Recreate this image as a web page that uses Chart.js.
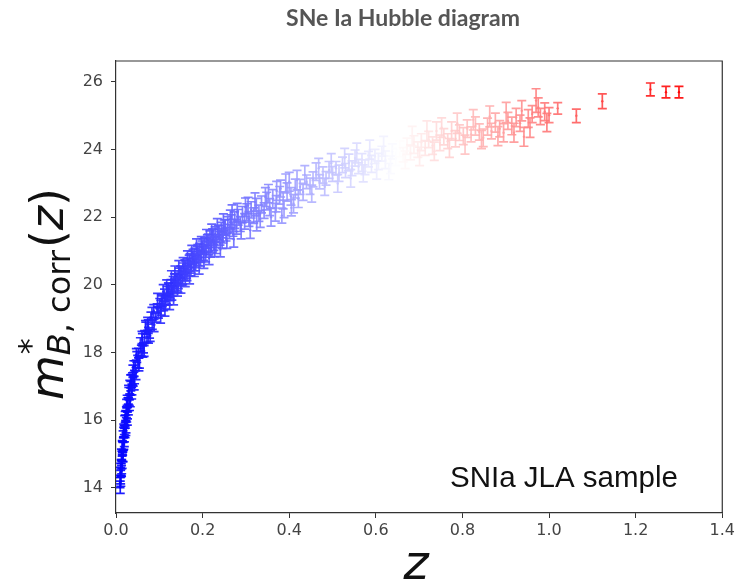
<!DOCTYPE html>
<html>
<head>
<meta charset="utf-8">
<title>SNe Ia Hubble diagram</title>
<script src="https://cdn.jsdelivr.net/npm/chart.js@4.4.1/dist/chart.umd.min.js"></script>
<style>
    html, body { margin: 0; padding: 0; background: #fff; }
    #hubbleChart { display: block; }
</style>
</head>
<body>
<canvas id="hubbleChart" width="738" height="584"></canvas>
<script>
// Values: redshift, corrected B magnitude and its error
const redshifts = [
    // low-z
    0.0093, 0.0098, 0.0102, 0.0107, 0.0112, 0.0118, 0.0121, 0.0125, 0.0131, 0.0136,
    0.0142, 0.0148, 0.0153, 0.0158, 0.0164, 0.0170, 0.0176, 0.0181, 0.0188, 0.0195,
    0.0201, 0.0209, 0.0216, 0.0224, 0.0231, 0.0240, 0.0248, 0.0257, 0.0266, 0.0275,
    0.0285, 0.0296, 0.0307, 0.0318, 0.0330, 0.0342, 0.0355, 0.0368, 0.0382, 0.0397,
    0.0412, 0.0428, 0.0445, 0.0462, 0.0480, 0.0500, 0.0520, 0.0541, 0.0563, 0.0586,
    0.0610, 0.0635, 0.0661, 0.0688, 0.0716, 0.0745, 0.0775, 0.0806, 0.0838, 0.0871,
    // SDSS
    0.092, 0.095, 0.098, 0.101, 0.104, 0.107, 0.110, 0.112, 0.115, 0.118,
    0.120, 0.122, 0.125, 0.127, 0.130, 0.132, 0.134, 0.137, 0.139, 0.141,
    0.144, 0.146, 0.148, 0.151, 0.153, 0.156, 0.158, 0.161, 0.163, 0.166,
    0.168, 0.171, 0.174, 0.177, 0.179, 0.182, 0.185, 0.188, 0.190, 0.193,
    0.196, 0.199, 0.202, 0.205, 0.208, 0.211, 0.214, 0.217, 0.220, 0.223,
    0.226, 0.229, 0.232, 0.236, 0.240, 0.243, 0.247, 0.250, 0.254, 0.258,
    0.262, 0.266, 0.268, 0.270, 0.274, 0.278, 0.282, 0.287, 0.292, 0.297,
    0.302, 0.307, 0.312, 0.318, 0.324, 0.330, 0.336, 0.342, 0.348, 0.355,
    0.362, 0.370, 0.378, 0.380, 0.383, 0.386, 0.395, 0.404, 0.405, 0.414,
    // SNLS + HST
    0.425, 0.432, 0.440, 0.448, 0.455, 0.462, 0.470, 0.478, 0.485, 0.492,
    0.500, 0.508, 0.515, 0.523, 0.530, 0.538, 0.545, 0.552, 0.560, 0.568,
    0.575, 0.583, 0.590, 0.598, 0.606, 0.614, 0.622, 0.630, 0.638, 0.646,
    0.655, 0.663, 0.672, 0.680, 0.688, 0.697, 0.705, 0.714, 0.722, 0.731,
    0.740, 0.748, 0.757, 0.766, 0.775, 0.784, 0.793, 0.802, 0.811, 0.820,
    0.830, 0.839, 0.848, 0.858, 0.867, 0.876, 0.886, 0.895, 0.905, 0.914,
    0.924, 0.933, 0.942, 0.952, 0.961, 0.970, 0.980, 0.990, 1.000, 1.020,
    1.063, 1.123, 1.234, 1.270, 1.300,
    // second pass over the crowded band
    0.0110, 0.0128, 0.0145, 0.0162, 0.0178, 0.0192, 0.0212, 0.0228, 0.0245, 0.0262,
    0.0290, 0.0312, 0.0338, 0.0362, 0.0390, 0.0420, 0.0470, 0.0530, 0.0600, 0.0650,
    0.0730, 0.0790,
    0.062, 0.068, 0.075, 0.083, 0.088, 0.096, 0.103, 0.109, 0.113, 0.117,
    0.124, 0.128, 0.133, 0.136, 0.142, 0.145, 0.150, 0.155, 0.160, 0.165,
    0.170, 0.175, 0.181, 0.186, 0.192, 0.197, 0.203, 0.209, 0.215, 0.221,
    0.228, 0.234, 0.241, 0.248, 0.256, 0.264, 0.272, 0.280, 0.289, 0.299,
    0.310, 0.321, 0.333, 0.345, 0.358, 0.371, 0.388, 0.400, 0.410, 0.418,
    0.305, 0.325, 0.352, 0.368, 0.392, 0.421, 0.436, 0.452, 0.468, 0.482,
    0.497, 0.512, 0.528, 0.542, 0.556, 0.571, 0.586, 0.602, 0.618, 0.634,
    0.651, 0.668, 0.684, 0.701, 0.718, 0.735, 0.752, 0.770, 0.788, 0.806,
    0.825, 0.844, 0.863, 0.882, 0.901, 0.919, 0.937, 0.956, 0.975, 0.995,
    0.105, 0.114, 0.121, 0.129, 0.135, 0.143, 0.149, 0.154, 0.159, 0.164,
    0.169, 0.173, 0.178, 0.184, 0.189, 0.195, 0.201, 0.207, 0.213, 0.219,
    0.225, 0.231, 0.238, 0.245, 0.252
];

const magnitudes = [
    14.16, 14.02, 14.46, 14.32, 14.21, 14.70, 14.53, 14.98, 14.63, 14.94,
    14.76, 15.22, 15.17, 14.92, 15.52, 15.30, 15.64, 15.32, 15.68, 15.56,
    16.00, 15.66, 15.96, 16.14, 15.81, 16.24, 16.16, 16.59, 16.21, 16.47,
    16.32, 16.79, 16.59, 16.98, 16.57, 17.01, 17.16, 16.91, 17.22, 17.16,
    17.59, 17.28, 17.61, 17.38, 17.87, 17.73, 17.99, 17.71, 18.24, 18.06,
    18.38, 18.14, 18.46, 18.73, 18.47, 18.77, 18.58, 19.02, 18.86, 19.23,

    19.05, 19.30, 19.18, 19.45, 19.28, 19.52, 19.38, 19.70, 19.55, 19.80,
    19.58, 19.88, 19.70, 19.98, 19.82, 20.08, 19.90, 20.15, 19.98, 20.25,
    20.05, 20.32, 20.15, 20.40, 20.22, 20.48, 20.30, 20.55, 20.38, 20.62,
    20.45, 20.72, 20.52, 20.80, 20.60, 20.88, 20.68, 20.95, 20.75, 21.02,
    20.85, 21.10, 20.92, 21.18, 21.00, 21.28, 21.08, 21.38, 21.15, 21.45,
    21.22, 21.50, 21.30, 21.55, 21.38, 21.62, 21.45, 21.70, 21.50, 21.78,
    21.58, 21.85, 22.15, 21.65, 21.92, 21.72, 22.00, 21.80, 22.08, 21.88,
    22.15, 21.95, 22.22, 22.05, 22.30, 22.12, 22.38, 22.20, 22.48, 22.30,
    22.55, 22.40, 22.65, 22.85, 22.05, 22.50, 22.75, 22.62, 22.28, 22.85,

    22.90, 22.75, 23.05, 22.92, 23.12, 23.35, 23.05, 23.25, 23.15, 23.40,
    23.28, 23.45, 23.30, 23.55, 23.38, 23.62, 23.45, 23.75, 23.50, 23.62,
    23.48, 23.72, 23.58, 23.80, 23.65, 23.88, 23.70, 23.35, 23.95, 23.78,
    24.02, 23.85, 24.10, 23.92, 24.15, 24.00, 24.22, 24.05, 24.30, 24.12,
    24.55, 24.20, 24.38, 24.25, 24.55, 24.32, 24.50, 24.40, 24.62, 24.45,
    24.70, 24.52, 24.35, 24.68, 24.55, 24.80, 24.62, 24.50, 24.85, 24.70,
    24.95, 24.78, 24.38, 24.92, 25.05, 25.45, 24.98, 25.12, 25.02, 25.22,
    25.00, 25.43, 25.78, 25.70, 25.70,

    14.55, 14.50, 15.20, 14.95, 15.70, 15.40, 16.10, 15.75, 16.45, 16.05,
    16.85, 16.45, 17.15, 16.80, 17.45, 17.10, 17.95, 17.65, 18.45, 18.05,
    18.85, 18.50,
    18.05, 18.75, 18.45, 19.15, 18.80, 19.55, 19.05, 19.80, 19.25, 19.95,
    19.45, 20.20, 19.60, 20.35, 19.85, 20.50, 19.95, 20.60, 20.15, 20.78,
    20.22, 20.95, 20.45, 21.12, 20.52, 21.20, 20.70, 21.40, 20.80, 21.55,
    21.05, 21.72, 21.05, 21.85, 21.30, 21.95, 21.35, 22.15, 21.60, 22.30,
    21.62, 22.45, 21.95, 22.60, 22.00, 22.78, 22.25, 23.05, 22.40, 23.10,
    22.35, 21.85, 22.70, 22.15, 23.00, 22.55, 23.25, 22.70, 23.45, 22.90,
    23.60, 23.00, 23.75, 23.15, 23.90, 23.30, 24.00, 23.40, 24.10, 23.55,
    24.25, 23.70, 24.40, 23.80, 24.55, 23.95, 24.65, 24.05, 24.78, 24.15,
    24.88, 24.30, 24.98, 24.40, 25.10, 24.50, 25.15, 24.65, 25.25, 24.80,
    19.55, 19.48, 19.90, 19.75, 20.15, 20.00, 20.38, 20.20, 20.55, 20.35,
    20.70, 20.48, 20.85, 20.65, 21.00, 20.78, 21.15, 20.92, 21.30, 21.05,
    21.42, 21.18, 21.55, 21.32, 21.70
];

const magErrors = [
    0.15, 0.18, 0.15, 0.20, 0.16, 0.14, 0.19, 0.17, 0.21, 0.15,
    0.18, 0.16, 0.20, 0.14, 0.17, 0.19, 0.15, 0.18, 0.16, 0.20,
    0.14, 0.17, 0.19, 0.15, 0.18, 0.16, 0.21, 0.15, 0.17, 0.19,
    0.16, 0.18, 0.15, 0.20, 0.17, 0.14, 0.19, 0.16, 0.18, 0.15,
    0.17, 0.20, 0.15, 0.18, 0.16, 0.19, 0.14, 0.17, 0.20, 0.16,
    0.18, 0.15, 0.19, 0.17, 0.16, 0.20, 0.15, 0.18, 0.17, 0.19,

    0.15, 0.14, 0.16, 0.15, 0.17, 0.16, 0.14, 0.18, 0.15, 0.16,
    0.17, 0.15, 0.16, 0.18, 0.15, 0.17, 0.16, 0.18, 0.15, 0.17,
    0.16, 0.18, 0.17, 0.16, 0.19, 0.17, 0.18, 0.16, 0.19, 0.17,
    0.18, 0.20, 0.17, 0.19, 0.18, 0.20, 0.17, 0.19, 0.18, 0.21,
    0.18, 0.20, 0.19, 0.21, 0.18, 0.20, 0.19, 0.22, 0.19, 0.21,
    0.20, 0.22, 0.19, 0.21, 0.20, 0.23, 0.21, 0.22, 0.20, 0.24,
    0.21, 0.22, 0.22, 0.21, 0.25, 0.22, 0.23, 0.22, 0.24, 0.23,
    0.25, 0.22, 0.24, 0.23, 0.26, 0.24, 0.25, 0.23, 0.26, 0.25,
    0.27, 0.24, 0.26, 0.25, 0.22, 0.25, 0.27, 0.26, 0.24, 0.28,

    0.22, 0.25, 0.20, 0.24, 0.22, 0.26, 0.21, 0.24, 0.20, 0.25,
    0.22, 0.20, 0.24, 0.23, 0.21, 0.25, 0.22, 0.24, 0.21, 0.26,
    0.22, 0.23, 0.25, 0.21, 0.24, 0.22, 0.26, 0.24, 0.22, 0.25,
    0.23, 0.21, 0.24, 0.22, 0.26, 0.23, 0.25, 0.22, 0.24, 0.26,
    0.27, 0.23, 0.24, 0.22, 0.27, 0.24, 0.23, 0.25, 0.26, 0.22,
    0.27, 0.24, 0.26, 0.25, 0.23, 0.28, 0.24, 0.27, 0.25, 0.26,
    0.27, 0.24, 0.28, 0.26, 0.25, 0.35, 0.24, 0.26, 0.22, 0.17,
    0.20, 0.22, 0.19, 0.17, 0.17,

    0.18, 0.16, 0.20, 0.17, 0.19, 0.18, 0.16, 0.20, 0.17, 0.19,
    0.18, 0.16, 0.19, 0.17, 0.18, 0.20, 0.17, 0.19, 0.18, 0.16,
    0.19, 0.17,
    0.18, 0.20, 0.17, 0.19, 0.18, 0.20, 0.18, 0.21, 0.17, 0.20,
    0.18, 0.22, 0.19, 0.21, 0.18, 0.22, 0.19, 0.21, 0.20, 0.23,
    0.19, 0.22, 0.20, 0.24, 0.20, 0.23, 0.21, 0.24, 0.20, 0.25,
    0.21, 0.24, 0.22, 0.25, 0.22, 0.26, 0.23, 0.26, 0.24, 0.27,
    0.24, 0.27, 0.25, 0.28, 0.26, 0.28, 0.26, 0.28, 0.27, 0.29,
    0.24, 0.25, 0.27, 0.26, 0.28, 0.26, 0.28, 0.25, 0.29, 0.25,
    0.28, 0.26, 0.29, 0.26, 0.29, 0.25, 0.28, 0.27, 0.29, 0.26,
    0.28, 0.26, 0.29, 0.27, 0.30, 0.27, 0.29, 0.28, 0.30, 0.28,
    0.30, 0.27, 0.31, 0.28, 0.30, 0.28, 0.30, 0.29, 0.28, 0.27,
    0.17, 0.19, 0.16, 0.20, 0.18, 0.21, 0.17, 0.20, 0.19, 0.22,
    0.18, 0.21, 0.20, 0.23, 0.19, 0.22, 0.21, 0.24, 0.20, 0.23,
    0.22, 0.25, 0.21, 0.24, 0.23
];

const xTicks = [0, 0.2, 0.4, 0.6, 0.8, 1.0, 1.2, 1.4];
const yTicks = [14, 16, 18, 20, 22, 24, 26];

const chartTitle = 'SNe Ia Hubble diagram';
const sampleLabel = 'SNIa JLA sample';

// blue-white-red colour map over the redshift range
const zMax = 1.3;
function zColor(z) {
    const t = Math.min(Math.max(z / zMax, 0), 1);
    let r, g, b;
    if (t < 0.5) {
        r = g = Math.round(510 * t);
        b = 255;
    } else {
        r = 255;
        g = b = Math.round(510 * (1 - t));
    }
    return `rgba(${r}, ${g}, ${b}, 0.9)`;
}

// Error bars with caps, drawn through the chart's own scales
const errorBars = {
    id: 'errorBars',
    afterDatasetsDraw(chart) {
        const { ctx, chartArea, scales: { x, y } } = chart;
        ctx.save();
        ctx.beginPath();
        ctx.rect(chartArea.left, chartArea.top, chartArea.width, chartArea.height);
        ctx.clip();
        ctx.lineWidth = 1.7;
        redshifts.forEach((z, i) => {
            const px = x.getPixelForValue(z);
            const top = y.getPixelForValue(magnitudes[i] + magErrors[i]);
            const bottom = y.getPixelForValue(magnitudes[i] - magErrors[i]);
            ctx.strokeStyle = zColor(z);
            ctx.beginPath();
            ctx.moveTo(px, top);
            ctx.lineTo(px, bottom);
            ctx.moveTo(px - 4.5, top);
            ctx.lineTo(px + 4.5, top);
            ctx.moveTo(px - 4.5, bottom);
            ctx.lineTo(px + 4.5, bottom);
            ctx.stroke();
        });
        ctx.restore();
    }
};

// Frame, title, axis labels and the sample note
const labels = {
    id: 'labels',
    afterDraw(chart) {
        const { ctx, chartArea } = chart;
        ctx.save();

        ctx.strokeStyle = '#333';
        ctx.lineWidth = 1.2;
        ctx.beginPath();
        ctx.moveTo(chartArea.left, chartArea.top);
        ctx.lineTo(chartArea.right, chartArea.top);
        ctx.lineTo(chartArea.right, chartArea.bottom);
        ctx.stroke();

        ctx.fillStyle = '#555';
        ctx.font = 'bold 23px Lato';
        ctx.textAlign = 'center';
        ctx.textBaseline = 'middle';
        ctx.fillText(chartTitle, 403, 19);

        ctx.fillStyle = '#111';
        ctx.textAlign = 'left';
        ctx.textBaseline = 'alphabetic';
        ctx.font = '29.5px "Liberation Sans"';
        ctx.fillText(sampleLabel, 450, 487);

        ctx.textAlign = 'center';
        ctx.font = 'italic 48px "DejaVu Sans"';
        ctx.fillText('z', 416, 579);

        // y label: m*_{B,corr}(z)
        ctx.translate(63, 400);
        ctx.rotate(-Math.PI / 2);
        ctx.textAlign = 'left';
        let cx = 0;
        ctx.font = 'italic 46px "DejaVu Sans"';
        ctx.fillText('m', cx, 0);
        cx += ctx.measureText('m').width;
        ctx.font = '32px "DejaVu Sans"';
        ctx.fillText('*', cx + 1, -22);
        ctx.font = 'italic 32px "DejaVu Sans"';
        ctx.fillText('B', cx, 7);
        cx += ctx.measureText('B').width;
        ctx.font = '32px "DejaVu Sans"';
        ctx.fillText(', corr', cx, 7);
        cx += ctx.measureText(', corr').width + 2;
        ctx.font = '46px "DejaVu Sans"';
        ctx.fillText('(', cx, 0);
        cx += ctx.measureText('(').width;
        ctx.font = 'italic 46px "DejaVu Sans"';
        ctx.fillText('z', cx, 0);
        cx += ctx.measureText('z').width;
        ctx.font = '46px "DejaVu Sans"';
        ctx.fillText(')', cx, 0);

        ctx.restore();
    }
};

const tickFont = { family: '"DejaVu Sans"', size: 16 };

new Chart(document.getElementById('hubbleChart'), {
    type: 'scatter',
    data: {
        datasets: [{
            data: redshifts.map((z, i) => ({ x: z, y: magnitudes[i] })),
            pointRadius: 1.2,
            pointBorderWidth: 0,
            pointBackgroundColor: redshifts.map(zColor)
        }]
    },
    options: {
        responsive: false,
        animation: false,
        devicePixelRatio: 1,
        layout: { padding: { top: 61, right: 15, bottom: 0, left: 0 } },
        plugins: {
            legend: { display: false },
            tooltip: { enabled: false },
            title: { display: false }
        },
        scales: {
            x: {
                type: 'linear',
                min: 0,
                max: 1.4,
                afterBuildTicks: scale => { scale.ticks = xTicks.map(v => ({ value: v })); },
                afterFit: scale => { scale.height = 71; },
                ticks: {
                    font: tickFont,
                    color: '#444',
                    padding: 3,
                    maxRotation: 0,
                    callback: v => v.toFixed(1)
                },
                grid: { drawOnChartArea: false, tickLength: 5, color: '#333' },
                border: { color: '#333', width: 1.2 }
            },
            y: {
                type: 'linear',
                min: 13.26,
                max: 26.62,
                afterBuildTicks: scale => { scale.ticks = yTicks.map(v => ({ value: v })); },
                afterFit: scale => { scale.width = 116; },
                ticks: {
                    font: tickFont,
                    color: '#444',
                    padding: 8,
                    callback: v => String(v)
                },
                grid: { drawOnChartArea: false, tickLength: 5, color: '#333' },
                border: { color: '#333', width: 1.2 }
            }
        }
    },
    plugins: [errorBars, labels]
});
</script>
</body>
</html>
